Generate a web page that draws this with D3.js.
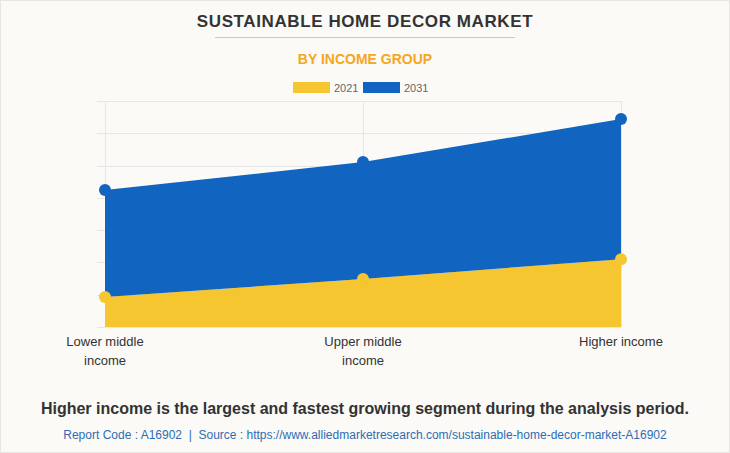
<!DOCTYPE html>
<html><head><meta charset="utf-8">
<script src="https://cdn.jsdelivr.net/npm/d3@7/dist/d3.min.js"></script>
<style>
html,body{margin:0;padding:0;background:#fbfaf6;}
svg{display:block;font-family:"Liberation Sans",Arial,sans-serif;}
</style></head>
<body>
<script>
const categories = ["Lower middle income", "Upper middle income", "Higher income"];
const categoryLines = [["Lower middle", "income"], ["Upper middle", "income"], ["Higher income"]];
const values2021 = [0.93, 1.49, 2.10];
const values2031 = [3.31, 3.62, 4.34];
const seriesNames = ["2021", "2031"];
const yTicks = [0, 1, 2, 3, 4, 5, 6, 7];

const W = 730, H = 453;
const svg = d3.select("body").append("svg").attr("width", W).attr("height", H);
svg.append("rect").attr("x",0.5).attr("y",0.5).attr("width",W-1).attr("height",H-1)
  .attr("fill","#fbfaf6").attr("stroke","#e8e6e0");

svg.append("text").attr("x",365).attr("y",27).attr("text-anchor","middle")
  .attr("font-size",17).attr("font-weight","bold").attr("fill","#333").attr("letter-spacing",0.6)
  .text("SUSTAINABLE HOME DECOR MARKET");
svg.append("line").attr("x1",215).attr("x2",515).attr("y1",37.5).attr("y2",37.5)
  .attr("stroke","#c8c8c8").attr("stroke-width",1);
svg.append("text").attr("x",365).attr("y",64).attr("text-anchor","middle")
  .attr("font-size",14).attr("font-weight","bold").attr("fill","#f5a623")
  .text("BY INCOME GROUP");

const colors = ["#f5c62f", "#1264c1"];
// legend
const leg = [{x:293, name:seriesNames[0], c:colors[0]}, {x:363, name:seriesNames[1], c:colors[1]}];
leg.forEach(l=>{
  svg.append("rect").attr("x",l.x).attr("y",82).attr("width",37).attr("height",11).attr("fill",l.c);
  svg.append("text").attr("x",l.x+41).attr("y",91.5).attr("font-size",11).attr("fill","#666").text(l.name);
});

const x = d3.scalePoint().domain(categories).range([105, 621]);
const y = d3.scaleLinear().domain([0, 7]).range([327, 101]);

// grid
const g = svg.append("g");
g.selectAll(".hg").data(yTicks).join("line")
  .attr("x1",97).attr("x2",621).attr("y1",d=>Math.round(y(d))+0.5).attr("y2",d=>Math.round(y(d))+0.5)
  .attr("stroke","#e6e6e6");
g.selectAll(".vg").data(categories).join("line")
  .attr("x1",d=>x(d)+0.5).attr("x2",d=>x(d)+0.5).attr("y1",101).attr("y2",327)
  .attr("stroke","#e6e6e6");

const data = categories.map((c,i)=>({cat:c, s2021:values2021[i], s2031:values2031[i]}));
const stack = d3.stack().keys(["s2021","s2031"])(data);

const area = d3.area().x(d=>x(d.data.cat)).y0(d=>y(d[0])).y1(d=>y(d[1]));
svg.selectAll(".area").data(stack).join("path")
  .attr("d", area).attr("fill",(d,i)=>colors[i]);

stack.forEach((s,i)=>{
  svg.selectAll(".dot"+i).data(s).join("circle")
    .attr("cx",d=>x(d.data.cat)).attr("cy",d=>y(d[1])).attr("r",6).attr("fill",colors[i]);
});

// x labels
categories.forEach((c,i)=>{
  const t = svg.append("text").attr("x",x(c)).attr("y",346).attr("text-anchor","middle")
    .attr("font-size",13).attr("fill","#333");
  categoryLines[i].forEach((ln,j)=>{
    t.append("tspan").attr("x",x(c)).attr("dy", j===0?0:19).text(ln);
  });
});

svg.append("text").attr("x",365).attr("y",414).attr("text-anchor","middle")
  .attr("font-size",16).attr("font-weight","bold").attr("fill","#333")
  .text("Higher income is the largest and fastest growing segment during the analysis period.");
svg.append("text").attr("x",365).attr("y",439).attr("text-anchor","middle")
  .attr("font-size",12).attr("fill","#2d6db5").style("white-space","pre")
  .text("Report Code : A16902  |  Source : https://www.alliedmarketresearch.com/sustainable-home-decor-market-A16902");
</script>
</body></html>
